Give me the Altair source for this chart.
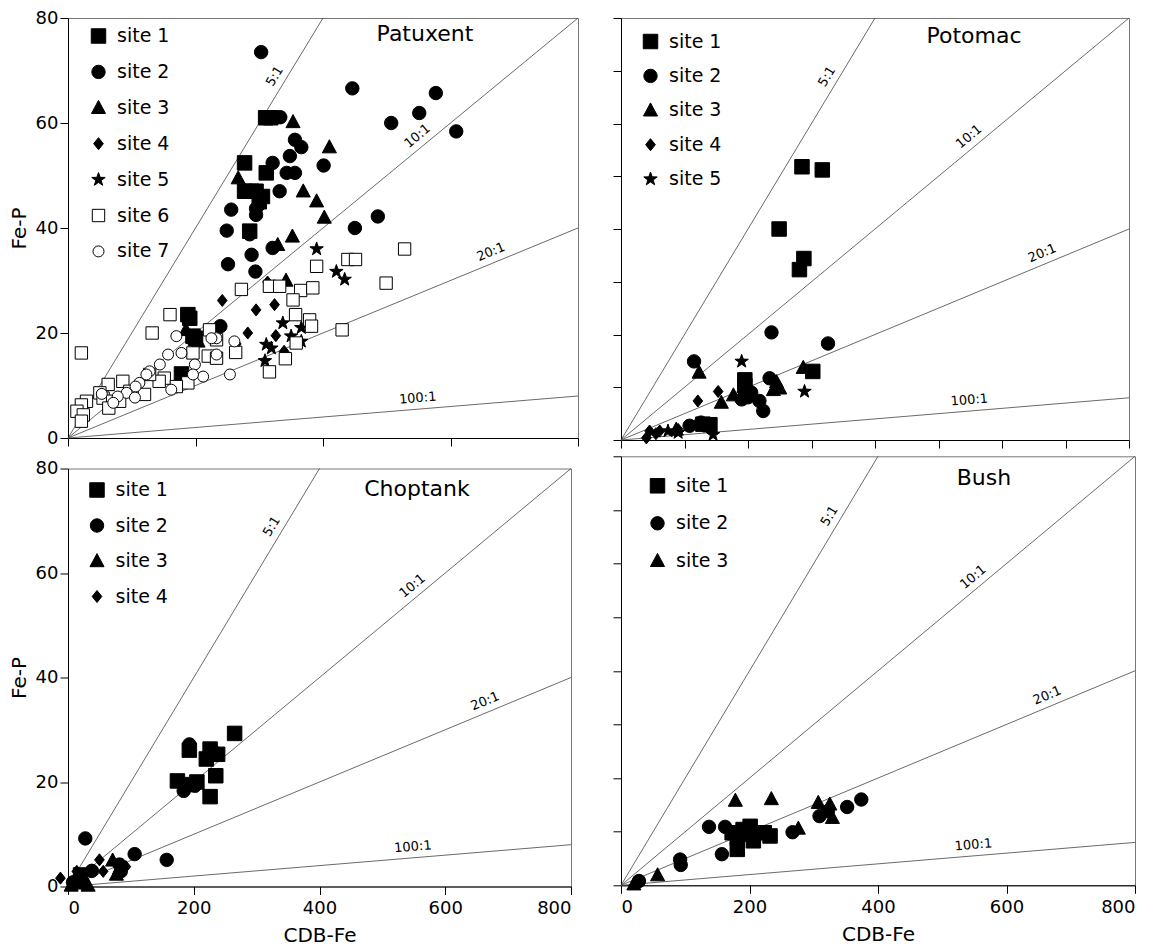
import math
import altair as alt
import pandas as pd

FONT = "DejaVu Sans"

# ---------------- data: CDB-Fe (x) and Fe-P (y) by estuary and site ----------------
PAT_S1_X = [310, 318, 277, 311, 277, 288, 295, 300, 305, 285, 188, 191, 196, 200, 178]
PAT_S1_Y = [61.0, 61.0, 52.4, 50.5, 47.0, 47.0, 47.0, 45.0, 46.0, 39.4, 23.5, 22.8, 19.4, 19.0, 12.2]
PAT_S2_X = [303, 446, 507, 551, 577, 609, 326, 333, 356, 366, 348, 321, 343, 356, 401, 332, 256,
            249, 295, 285, 486, 450, 251, 288, 294, 321, 239, 295, 300]
PAT_S2_Y = [73.5, 66.6, 60.0, 61.9, 65.7, 58.4, 61.1, 61.1, 56.8, 55.4, 53.7, 52.4, 50.5, 50.5,
            51.9, 47.0, 43.5, 39.5, 42.5, 38.8, 42.2, 40.0, 33.1, 34.9, 31.7, 36.2, 21.3, 43.7, 44.5]
PAT_S3_X = [353, 410, 267, 369, 390, 402, 352, 329, 342, 185, 204]
PAT_S3_Y = [60.2, 55.4, 49.5, 47.0, 45.1, 42.0, 38.4, 36.8, 30.0, 20.6, 18.4]
PAT_S4_X = [242, 313, 295, 324, 282, 264, 326, 339]
PAT_S4_Y = [26.2, 29.7, 24.4, 25.4, 20.0, 17.9, 19.5, 16.5]
PAT_S5_X = [390, 421, 434, 337, 311, 319, 350, 366, 366, 309]
PAT_S5_Y = [36.0, 31.7, 30.2, 21.9, 17.8, 17.1, 19.4, 18.4, 21.0, 14.7]
PAT_S6_X = [21, 390, 439, 451, 499, 528, 272, 316, 332, 365, 384, 353, 357, 379, 382, 430, 358,
            341, 316, 160, 132, 222, 233, 220, 233, 263, 196, 151, 188, 170, 143, 86, 63, 50, 29,
            21, 14, 24, 55, 70, 97, 120, 128, 81, 64, 21]
PAT_S6_Y = [16.2, 32.7, 34.0, 34.0, 29.5, 36.0, 28.3, 28.9, 28.9, 28.1, 28.6, 26.3, 23.5, 22.5,
            21.3, 20.6, 18.1, 15.1, 12.6, 23.5, 20.0, 20.6, 18.7, 15.6, 15.2, 16.3, 16.2, 11.4,
            10.5, 9.8, 10.8, 10.8, 10.2, 8.6, 7.0, 6.3, 5.1, 4.4, 7.6, 7.0, 8.9, 8.3, 12.1, 7.0,
            5.7, 3.2]
PAT_S7_X = [170, 178, 199, 157, 144, 128, 123, 112, 106, 92, 105, 78, 53, 212, 254, 261, 233,
            196, 162, 71, 233, 225]
PAT_S7_Y = [19.4, 16.2, 14.0, 15.9, 14.0, 12.7, 12.1, 10.5, 9.8, 8.6, 7.7, 7.9, 8.4, 11.7, 12.1,
            18.4, 19.0, 12.1, 9.2, 6.7, 15.9, 19.0]

POT_S1_X = [285, 317, 249, 288, 281, 195, 195, 302, 129, 140]
POT_S1_Y = [51.8, 51.2, 40.0, 34.4, 32.3, 11.4, 10.3, 13.0, 3.0, 2.9]
POT_S2_X = [237, 326, 115, 190, 200, 234, 218, 224, 108, 126, 205]
POT_S2_Y = [20.4, 18.3, 14.9, 7.7, 8.1, 11.7, 7.4, 5.5, 2.7, 3.3, 9.0]
POT_S3_X = [123, 287, 158, 177, 240, 250, 245, 87]
POT_S3_Y = [12.8, 13.7, 7.1, 8.5, 9.5, 9.8, 11.0, 2.0]
POT_S4_X = [121, 153, 40, 45, 61, 90, 55]
POT_S4_Y = [7.4, 9.2, 0.4, 1.7, 1.7, 2.0, 1.2]
POT_S5_X = [190, 289, 74, 90, 145]
POT_S5_Y = [14.9, 9.2, 1.7, 1.4, 1.0]

CHO_S1_X = [265, 193, 226, 229, 238, 220, 174, 205, 235, 226, 195, 20]
CHO_S1_Y = [29.3, 26.1, 26.3, 25.3, 25.3, 24.4, 20.2, 20.0, 21.2, 17.2, 19.5, 2.2]
CHO_S2_X = [193, 184, 202, 27.5, 106, 157, 82, 84, 38, 8]
CHO_S2_Y = [27.2, 18.3, 19.3, 9.2, 6.2, 5.1, 4.2, 2.9, 3.0, 0.8]
CHO_S3_X = [71, 82, 77, 5, 17, 32, 23]
CHO_S3_Y = [5.0, 3.5, 2.3, 0.2, 0.6, 0.2, 1.2]
CHO_S4_X = [50, -12, 56, 92, 14]
CHO_S4_Y = [5.1, 1.6, 2.9, 3.8, 2.9]

BUS_S1_X = [181, 190, 201, 206, 223, 232, 181, 206, 173, 198]
BUS_S1_Y = [8.9, 10.4, 11.0, 9.5, 9.8, 9.2, 6.7, 8.3, 9.8, 9.5]
BUS_S2_X = [374, 352, 309, 322, 267, 137, 162, 157, 92, 93, 28]
BUS_S2_Y = [16.0, 14.6, 12.9, 13.8, 9.9, 10.9, 10.9, 5.8, 4.8, 3.8, 0.8]
BUS_S3_X = [178, 234, 307, 325, 329, 276, 57, 20]
BUS_S3_Y = [15.8, 16.1, 15.4, 15.1, 12.6, 10.6, 1.9, 0.2]

# Fe : P reference ratios and where their labels sit along each line (CDB-Fe units)
RATIOS = [5, 10, 20, 100]
RATIO_TEXT = ["5:1", "10:1", "20:1", "100:1"]
RATIO_LABEL_X = [339, 559, 670, 550]

# ---------------- symbol styling per site ----------------
SITE_NAMES = ["site 1", "site 2", "site 3", "site 4", "site 5", "site 6", "site 7"]
SITE_SHAPES = [
    "M-1.08,-1.08L1.08,-1.08L1.08,1.08L-1.08,1.08Z",                       # filled square
    "circle",                                                              # filled circle
    "M0,-1.1L1.05,0.85L-1.05,0.85Z",                                       # filled triangle
    "M0,-0.9L0.72,0L0,0.9L-0.72,0Z",                                       # filled diamond
    "M0,-1.05L0.25,-0.34L1,-0.32L0.4,0.13L0.62,0.85L0,0.42L-0.62,0.85"
    "L-0.4,0.13L-1,-0.32L-0.25,-0.34Z",                                    # filled star
    "M-0.92,-0.92L0.92,-0.92L0.92,0.92L-0.92,0.92Z",                       # open square
    "M0.82,0A0.82,0.82,0,1,1,-0.82,0A0.82,0.82,0,1,1,0.82,0Z",             # open circle
]
SITE_FILLS = ["black", "black", "black", "black", "black", "white", "white"]
MARK_SIZE = 180


def panel(name, series, w, h, xstep, ystep, xlabels, ylabels, ghost_ylabels,
          legend_pos, row_pad, title_pos):
    rows = []
    for i, (xs, ys) in enumerate(series):
        for a, b in zip(xs, ys):
            rows.append({"cdb": a, "fep": b, "site": SITE_NAMES[i]})
    pts = pd.DataFrame(rows)
    n = len(series)

    xscale = alt.Scale(domain=[0, 800], nice=False, zero=False)
    yscale = alt.Scale(domain=[0, 80], nice=False, zero=False)
    xaxis = alt.Axis(values=list(range(0, 801, xstep)), labels=xlabels,
                     title="CDB-Fe" if xlabels else None)
    if ghost_ylabels:
        # labels kept for spacing only, not shown
        yaxis = alt.Axis(values=list(range(0, 81, ystep)), labels=True, labelOpacity=0,
                         title=None)
    else:
        yaxis = alt.Axis(values=list(range(0, 81, ystep)), labels=ylabels,
                         title="Fe-P" if ylabels else None)
    X = alt.X("cdb:Q", scale=xscale, axis=xaxis)
    Y = alt.Y("fep:Q", scale=yscale, axis=yaxis)

    # ratio lines run from the origin to the frame edge
    line_rows = []
    for r in RATIOS:
        for xe in (0, min(800, 80 * r)):
            line_rows.append({"ratio": r, "cdb": xe, "fep": xe / r})
    lines = alt.Chart(pd.DataFrame(line_rows)).mark_line(
        color="#444", strokeWidth=0.8
    ).encode(x=X, y=Y, detail="ratio:N")

    px_ratio = (h / 80.0) / (w / 800.0)
    lab_rows = []
    for r, t, lx in zip(RATIOS, RATIO_TEXT, RATIO_LABEL_X):
        ang = 360 - math.degrees(math.atan(px_ratio / r))
        lab_rows.append({"cdb": lx, "fep": lx / r, "txt": t, "ang": ang})
    labels = alt.Chart(pd.DataFrame(lab_rows)).mark_text(
        font=FONT, fontSize=13, baseline="bottom", align="center", dy=-4, color="black"
    ).encode(x=X, y=Y, text="txt:N", angle=alt.Angle("ang:Q", scale=None))

    legend = alt.Legend(
        title=None, orient="none", legendX=legend_pos[0], legendY=legend_pos[1],
        labelFont=FONT, labelFontSize=19, labelColor="black", symbolSize=MARK_SIZE,
        symbolStrokeWidth=1, rowPadding=row_pad, labelOffset=9, padding=0,
    )
    sites = SITE_NAMES[:n]
    points = alt.Chart(pts).mark_point(
        size=MARK_SIZE, strokeWidth=1, opacity=1, fillOpacity=1, filled=True
    ).encode(
        x=X, y=Y,
        shape=alt.Shape("site:N", scale=alt.Scale(domain=sites, range=SITE_SHAPES[:n]),
                        legend=legend),
        fill=alt.Fill("site:N", scale=alt.Scale(domain=sites, range=SITE_FILLS[:n]),
                      legend=legend),
        stroke=alt.Stroke("site:N", scale=alt.Scale(domain=sites, range=["black"] * n),
                          legend=legend),
    )

    title = alt.Chart(pd.DataFrame({"name": [name]})).mark_text(
        font=FONT, fontSize=22, align="center", baseline="middle", color="black"
    ).encode(text="name:N", x=alt.value(title_pos[0]), y=alt.value(title_pos[1]))

    return alt.layer(lines, labels, points, title).properties(width=w, height=h)


patuxent = panel("Patuxent",
                 [(PAT_S1_X, PAT_S1_Y), (PAT_S2_X, PAT_S2_Y), (PAT_S3_X, PAT_S3_Y),
                  (PAT_S4_X, PAT_S4_Y), (PAT_S5_X, PAT_S5_Y), (PAT_S6_X, PAT_S6_Y),
                  (PAT_S7_X, PAT_S7_Y)],
                 510, 420, 200, 20, False, True, False, (21, 8.5), 15.9, (357, 16))
potomac = panel("Potomac",
                [(POT_S1_X, POT_S1_Y), (POT_S2_X, POT_S2_Y), (POT_S3_X, POT_S3_Y),
                 (POT_S4_X, POT_S4_Y), (POT_S5_X, POT_S5_Y)],
                508, 422, 100, 10, False, False, True, (20, 14), 14.4, (353, 18))
choptank = panel("Choptank",
                 [(CHO_S1_X, CHO_S1_Y), (CHO_S2_X, CHO_S2_Y), (CHO_S3_X, CHO_S3_Y),
                  (CHO_S4_X, CHO_S4_Y)],
                 503, 418, 200, 20, True, True, False, (19.5, 12), 15.5, (349, 20))
bush = panel("Bush",
             [(BUS_S1_X, BUS_S1_Y), (BUS_S2_X, BUS_S2_Y), (BUS_S3_X, BUS_S3_Y)],
             514, 429, 200, 10, True, False, False, (27, 20), 17.5, (363, 22))

INDEP = dict(x="independent", y="independent", shape="independent",
             fill="independent", stroke="independent")

left_col = alt.vconcat(patuxent, choptank, spacing=30.5, bounds="flush").resolve_scale(**INDEP)
right_col = alt.vconcat(potomac, bush, spacing=16.3, bounds="flush").resolve_scale(**INDEP)

chart = alt.hconcat(left_col, right_col, spacing=6).resolve_scale(**INDEP).properties(
    padding={"left": 8, "top": 8, "right": 5, "bottom": 5}
).configure_view(
    stroke="#777", strokeWidth=1
).configure_axis(
    grid=False, domainColor="black", tickColor="black", tickSize=8, labelPadding=2,
    labelFont=FONT, labelFontSize=18, labelColor="black",
    titleFont=FONT, titleFontSize=20, titleFontWeight="normal", titleColor="black",
).configure_axisX(labelPadding=5, titlePadding=8).configure_axisY(titlePadding=6)

chart.save("out.html", embed_options={"renderer": "svg", "actions": False})
